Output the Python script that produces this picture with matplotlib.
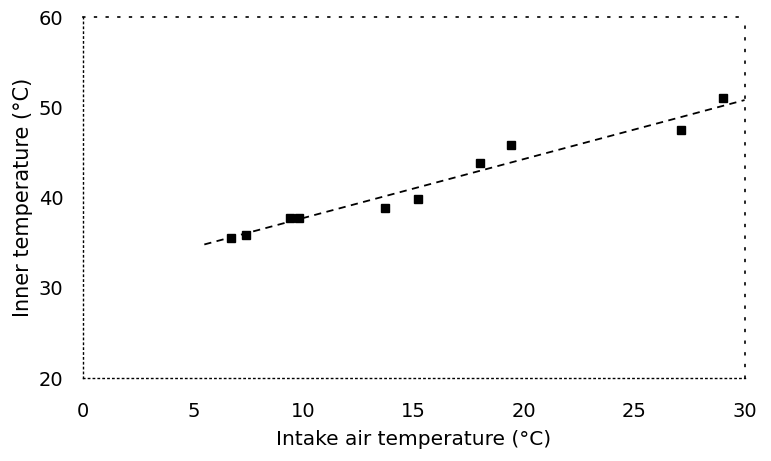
import matplotlib
matplotlib.use("Agg")
import matplotlib.pyplot as plt

# intake air temperature vs inner temperature
intake_temp = [6.7, 7.4, 9.4, 9.8, 13.7, 15.2, 18.0, 19.4, 27.1, 29.0]
inner_temp = [35.5, 35.8, 37.7, 37.7, 38.8, 39.8, 43.8, 45.8, 47.5, 51.0]

# fitted trend line end points
fit_x = [5.5, 30.0]
fit_y = [34.8, 50.8]

x_ticks = [0, 5, 10, 15, 20, 25, 30]
y_ticks = [20, 30, 40, 50, 60]

plt.rcParams["font.family"] = ["DejaVu Sans"]

fig = plt.figure(figsize=(7.71, 4.61), dpi=100)
ax = fig.add_axes([0.1077, 0.180, 0.858, 0.783])

ax.plot(fit_x, fit_y, color="black", linestyle=(0, (4, 3)), linewidth=1.3)
ax.plot(intake_temp, inner_temp, linestyle="none", marker="s",
        markersize=5.5, color="black")

ax.set_xlim(0, 30)
ax.set_ylim(20, 60)
ax.set_xticks(x_ticks)
ax.set_yticks(y_ticks)
ax.tick_params(length=0, labelsize=14)
ax.tick_params(axis="x", pad=17)
ax.tick_params(axis="y", pad=14)

# scanned frame: dense dots bottom/left, sparse dots top/right
for side in ["bottom", "left"]:
    ax.spines[side].set_linestyle((0, (1, 2.5)))
    ax.spines[side].set_linewidth(1.0)
for side in ["top", "right"]:
    ax.spines[side].set_linestyle((0, (1, 6)))
    ax.spines[side].set_linewidth(1.2)

ax.set_xlabel("Intake air temperature (°C)", fontsize=14.5, labelpad=7)
ax.set_ylabel("Inner temperature (°C)", fontsize=15, labelpad=4)

fig.savefig("out.png", dpi=100)
